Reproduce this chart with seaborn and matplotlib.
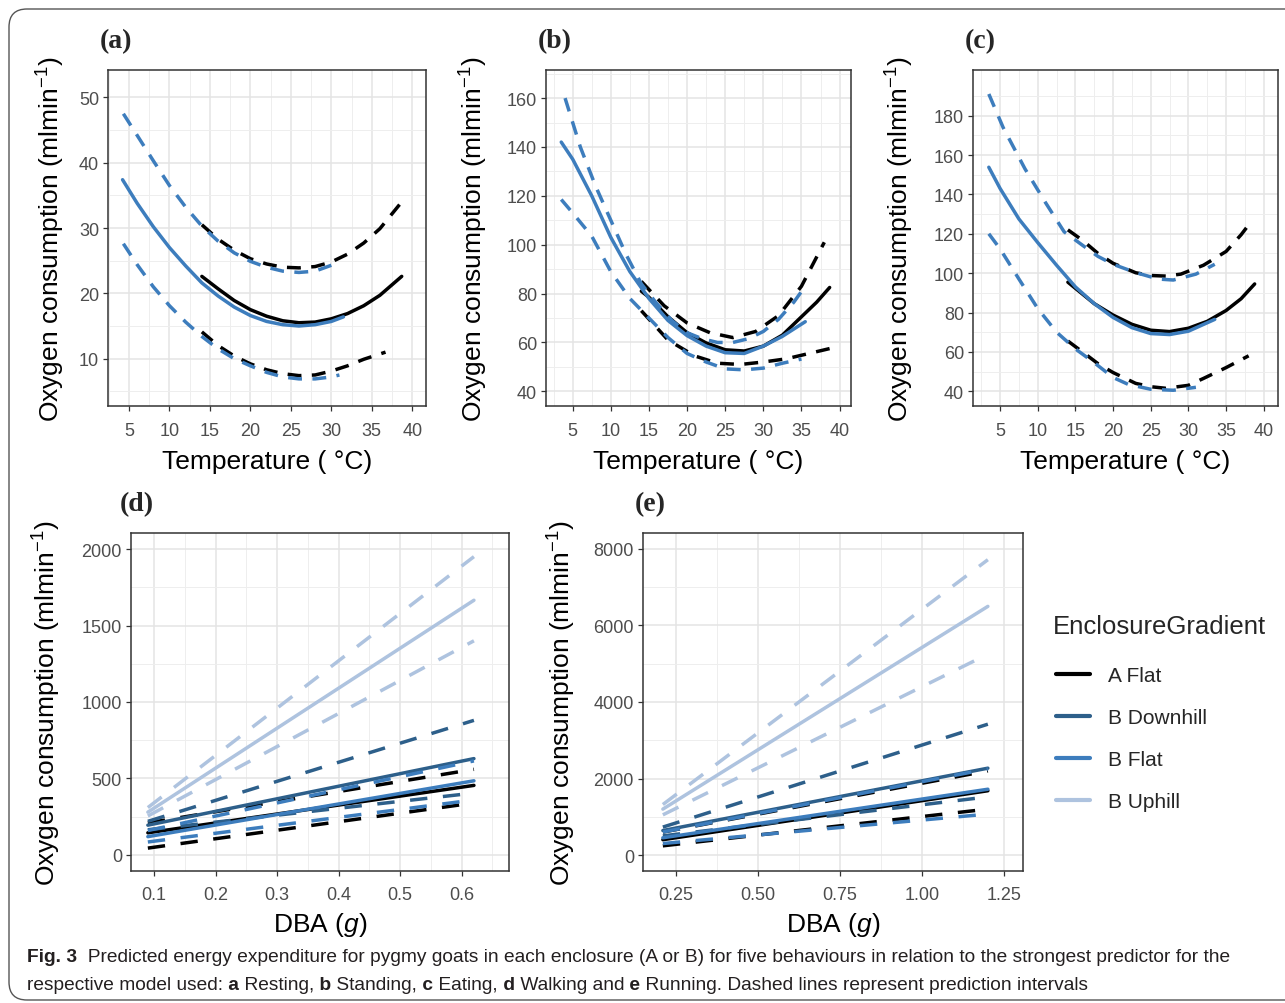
import matplotlib
matplotlib.use("Agg")
import matplotlib.pyplot as plt
import matplotlib.patches as mpatches
from matplotlib.lines import Line2D
from matplotlib.transforms import IdentityTransform
from matplotlib.ticker import FixedLocator, StrMethodFormatter
import pandas as pd
import seaborn as sns

# ---------------- data ----------------
groups = ["A Flat", "B Downhill", "B Flat", "B Uphill"]
colors = ["#000000", "#2d5f8a", "#3d7dbd", "#aec3df"]

# (a) Resting - temperature
a_A_fit_x = [14, 16, 18, 20, 22, 24, 26, 28, 30, 32, 34, 36, 38.7]
a_A_fit = [22.6, 20.7, 18.9, 17.5, 16.5, 15.8, 15.5, 15.6, 16.1, 16.9, 18.1, 19.7, 22.6]
a_A_hi_x = [14, 16, 18, 20, 22, 24, 26, 28, 30, 32, 34, 36, 38.7]
a_A_hi = [30.5, 28.3, 26.6, 25.3, 24.5, 24.0, 23.9, 24.1, 24.8, 26.0, 27.7, 29.9, 34.0]
a_A_lo_x = [14, 16, 18, 20, 22, 24, 26, 28, 30, 32, 34, 36.7]
a_A_lo = [14.1, 12.0, 10.4, 9.2, 8.3, 7.7, 7.4, 7.5, 8.1, 8.9, 9.9, 11.0]
a_B_fit_x = [4.2, 6, 8, 10, 12, 14, 16, 18, 20, 22, 24, 26, 28, 30, 31.5]
a_B_fit = [37.4, 33.8, 30.2, 27.0, 24.2, 21.6, 19.6, 17.9, 16.6, 15.7, 15.2, 15.0, 15.2, 15.7, 16.4]
a_B_hi_x = [4.3, 6, 8, 10, 12, 14, 16, 18, 20, 22, 24, 26, 28, 30]
a_B_hi = [47.5, 44.2, 40.3, 36.5, 33.2, 30.3, 28.0, 26.2, 24.9, 24.0, 23.4, 23.2, 23.4, 24.3]
a_B_lo_x = [4.3, 6, 8, 10, 12, 14, 16, 18, 20, 22, 24, 26, 28, 30, 31]
a_B_lo = [27.6, 24.4, 21.0, 18.1, 15.6, 13.4, 11.5, 10.0, 8.9, 7.9, 7.2, 6.9, 6.9, 7.2, 7.5]

# (b) Standing - temperature
b_A_fit_x = [14, 15, 17.5, 20, 22.5, 25, 27.5, 30, 32.5, 35, 37, 38.7]
b_A_fit = [81, 78.5, 70.5, 64, 59.8, 57, 56.5, 58.5, 63, 70.5, 76.5, 82.5]
b_A_hi_x = [14, 17, 20, 23, 26, 29, 32, 35, 38]
b_A_hi = [85, 75, 68, 64, 62, 64.5, 71, 83, 101]
b_A_lo_x = [14, 17.5, 21, 24, 27, 30, 33, 36, 38.7]
b_A_lo = [73, 61, 54.5, 51.5, 51, 52, 53.3, 55.5, 57.5]
b_B_fit_x = [3.5, 5, 7.5, 10, 12.5, 15, 17.5, 20, 22.5, 25, 27.5, 30, 32.5, 35.5]
b_B_fit = [142, 135, 120, 103, 89, 78, 69, 62.8, 58.5, 55.8, 55.5, 58.5, 62.5, 68.5]
b_B_hi_x = [4, 6, 8, 10, 12, 14, 16, 18, 20, 22, 24, 26, 28, 30, 32, 34, 35.5]
b_B_hi = [160, 140, 124, 110, 96, 84, 76, 69, 64, 61.5, 60, 60, 61.5, 64.5, 69.5, 76.5, 83]
b_B_lo_x = [3.5, 5, 7.5, 10, 12.5, 15, 17.5, 20, 22.5, 25, 27.5, 30, 32.5, 35]
b_B_lo = [118.5, 113, 103.5, 89, 78, 70, 62, 55.5, 52, 49.2, 48.8, 49.5, 51.5, 53.2]

# (c) Eating - temperature
c_A_fit_x = [14, 17.5, 20, 22.5, 25, 27.5, 30, 32.5, 35, 37, 38.8]
c_A_fit = [95.4, 84.5, 78.7, 74, 71, 70.3, 72, 75.5, 81, 87, 94.5]
c_A_hi_x = [14, 16, 18, 20, 23, 25, 27, 29, 32, 35, 37, 38.3]
c_A_hi = [122, 116.5, 110, 105, 100.2, 98.8, 98.5, 99.5, 104, 111, 119.5, 126]
c_A_lo_x = [14, 16, 18, 20, 23, 25, 27, 30, 32, 35, 38]
c_A_lo = [65.5, 59.8, 54, 49.5, 44, 42.3, 41.5, 43, 46.5, 52, 58]
c_B_fit_x = [3.5, 5, 7.5, 10, 12.5, 15, 17.5, 20, 22.5, 25, 27.5, 30, 33.5]
c_B_fit = [153.8, 143, 127.5, 115.5, 104, 93, 84.5, 77.5, 72.3, 69.3, 68.8, 70.5, 76.5]
c_B_hi_x = [3.5, 5.4, 8.3, 11, 13.5, 16, 18, 20, 23, 26, 28, 31, 33.5]
c_B_hi = [191, 174, 153, 136, 121, 114, 108.5, 104.5, 100.3, 97, 96.5, 99.5, 104.5]
c_B_lo_x = [3.5, 5, 7.5, 10, 12.5, 15, 17.5, 20, 22, 25, 28, 31]
c_B_lo = [120, 112.3, 97, 82, 70, 61.5, 54.5, 47, 43.5, 41, 40.5, 42]

# (d) Walking - DBA
d_x = [0.09, 0.62]
d_A_fit, d_A_hi, d_A_lo = [145, 455], [210, 560], [45, 340]
d_D_fit, d_D_hi, d_D_lo = [195, 630], [220, 880], [165, 405]
d_F_fit, d_F_hi, d_F_lo = [120, 485], [160, 615], [85, 360]
d_U_fit, d_U_hi, d_U_lo = [280, 1665], [310, 1950], [255, 1400]

# (e) Running - DBA
e_x = [0.21, 1.2]
e_A_fit, e_A_hi, e_A_lo = [400, 1680], [600, 2200], [240, 1200]
e_D_fit, e_D_hi, e_D_lo = [640, 2270], [730, 3420], [500, 1520]
e_F_fit, e_F_hi, e_F_lo = [450, 1720], [600, 2250], [300, 1070]
e_U_fit, e_U_hi, e_U_lo = [1200, 6500], [1320, 7720], [1050, 5250]

# axis breaks
temp_ticks = [5, 10, 15, 20, 25, 30, 35, 40]
a_yticks = [10, 20, 30, 40, 50]
b_yticks = [40, 60, 80, 100, 120, 140, 160]
c_yticks = [40, 60, 80, 100, 120, 140, 160, 180]
d_xticks = [0.1, 0.2, 0.3, 0.4, 0.5, 0.6]
d_yticks = [0, 500, 1000, 1500, 2000]
e_xticks = [0.25, 0.50, 0.75, 1.00, 1.25]
e_yticks = [0, 2000, 4000, 6000, 8000]

caption1 = [("Fig. 3", True),
            ("  Predicted energy expenditure for pygmy goats in each enclosure (A or B) for five "
             "behaviours in relation to the strongest predictor for the", False)]
caption2 = [("respective model used:", False), (" a", True), (" Resting,", False), (" b", True),
            (" Standing,", False), (" c", True), (" Eating,", False), (" d", True),
            (" Walking and", False), (" e", True),
            (" Running. Dashed lines represent prediction intervals", False)]


def series(group, kind, xs, ys):
    return pd.DataFrame({"x": xs, "y": ys, "group": group, "kind": kind,
                         "line": group + kind})


# ---------------- style ----------------
sns.set_theme(style="white")
plt.rcParams["font.family"] = ["Liberation Sans", "DejaVu Sans"]
plt.rcParams["mathtext.fontset"] = "custom"
plt.rcParams["mathtext.rm"] = "Liberation Sans"
plt.rcParams["mathtext.it"] = "Liberation Sans:italic"

W, H = 1285, 1004
fig = plt.figure(figsize=(W / 100, H / 100), dpi=100)
pal = dict(zip(groups, colors))


def px_axes(l, t, r, b):
    return fig.add_axes([l / W, 1 - b / H, (r - l) / W, (b - t) / H])


def minors(ticks, lim):
    # ggplot style: midpoints between breaks plus one half-step beyond each end
    step = ticks[1] - ticks[0]
    cand = [ticks[0] - step / 2] + [t + step / 2 for t in ticks]
    return [c for c in cand if lim[0] <= c <= lim[1]]


def style_axes(ax, xlim, ylim, xt, yt, xlabel, xfmt="{x:.0f}", ylab_x=-0.15,
               xlab_y=-0.12, xpad=8):
    ax.set_xlim(*xlim)
    ax.set_ylim(*ylim)
    ax.xaxis.set_major_locator(FixedLocator(xt))
    ax.xaxis.set_minor_locator(FixedLocator(minors(xt, xlim)))
    ax.yaxis.set_major_locator(FixedLocator(yt))
    ax.yaxis.set_minor_locator(FixedLocator(minors(yt, ylim)))
    ax.xaxis.set_major_formatter(StrMethodFormatter(xfmt))
    ax.yaxis.set_major_formatter(StrMethodFormatter("{x:.0f}"))
    ax.grid(which="major", color="#e4e4e4", lw=1.1)
    ax.grid(which="minor", color="#eeeeee", lw=0.7)
    ax.set_axisbelow(True)
    for sp in ax.spines.values():
        sp.set_color("#333333")
        sp.set_linewidth(1.1)
    ax.tick_params(which="major", length=3.5, width=0.9, color="#333333",
                   labelsize=13, labelcolor="#4d4d4d", pad=3, bottom=True, left=True)
    ax.tick_params(axis="x", which="major", pad=xpad)
    ax.tick_params(which="minor", length=0)
    ax.set_xlabel(xlabel, fontsize=19, color="black")
    ax.set_ylabel("Oxygen consumption (mlmin$^{-1}$)", fontsize=19, color="black")
    ax.xaxis.set_label_coords(0.5, xlab_y)
    ax.yaxis.set_label_coords(ylab_x, 0.5)


def draw(ax, df, dash):
    sns.lineplot(data=df, x="x", y="y", hue="group", style="kind", units="line",
                 estimator=None, sort=False, palette=pal, hue_order=groups,
                 style_order=["fit", "upper", "lower"],
                 dashes={"fit": "", "upper": dash, "lower": dash},
                 lw=2.5, legend=False, ax=ax)


temp_label = "Temperature ( °C)"
dba_label = "DBA ($g$)"

# (a)
ax_a = px_axes(108, 71, 426, 407)
df_a = pd.concat([
    series("A Flat", "fit", a_A_fit_x, a_A_fit), series("A Flat", "upper", a_A_hi_x, a_A_hi),
    series("A Flat", "lower", a_A_lo_x, a_A_lo), series("B Flat", "fit", a_B_fit_x, a_B_fit),
    series("B Flat", "upper", a_B_hi_x, a_B_hi), series("B Flat", "lower", a_B_lo_x, a_B_lo)])
draw(ax_a, df_a, (4, 3))
style_axes(ax_a, (2.4, 41.7), (2.75, 54.2), temp_ticks, a_yticks, temp_label,
           ylab_x=-0.13, xlab_y=-0.127)

# (b)
ax_b = px_axes(546, 71, 851, 407)
df_b = pd.concat([
    series("A Flat", "fit", b_A_fit_x, b_A_fit), series("A Flat", "upper", b_A_hi_x, b_A_hi),
    series("A Flat", "lower", b_A_lo_x, b_A_lo), series("B Flat", "fit", b_B_fit_x, b_B_fit),
    series("B Flat", "upper", b_B_hi_x, b_B_hi), series("B Flat", "lower", b_B_lo_x, b_B_lo)])
draw(ax_b, df_b, (4, 3))
style_axes(ax_b, (1.5, 41.5), (34.0, 171.5), temp_ticks, b_yticks, temp_label,
           ylab_x=-0.184, xlab_y=-0.127)

# (c)
ax_c = px_axes(973, 71, 1278, 407)
df_c = pd.concat([
    series("A Flat", "fit", c_A_fit_x, c_A_fit), series("A Flat", "upper", c_A_hi_x, c_A_hi),
    series("A Flat", "lower", c_A_lo_x, c_A_lo), series("B Flat", "fit", c_B_fit_x, c_B_fit),
    series("B Flat", "upper", c_B_hi_x, c_B_hi), series("B Flat", "lower", c_B_lo_x, c_B_lo)])
draw(ax_c, df_c, (4, 3))
style_axes(ax_c, (1.4, 41.9), (32.5, 203.2), temp_ticks, c_yticks, temp_label,
           ylab_x=-0.187, xlab_y=-0.127)

# (d)
ax_d = px_axes(131, 534, 509, 872)
d_parts = []
for g, f, hi, lo in zip(groups, [d_A_fit, d_D_fit, d_F_fit, d_U_fit],
                        [d_A_hi, d_D_hi, d_F_hi, d_U_hi], [d_A_lo, d_D_lo, d_F_lo, d_U_lo]):
    d_parts += [series(g, "fit", d_x, f), series(g, "upper", d_x, hi), series(g, "lower", d_x, lo)]
draw(ax_d, pd.concat(d_parts), (5, 4.5))
style_axes(ax_d, (0.0626, 0.677), (-104.6, 2104.6), d_xticks, d_yticks, dba_label,
           xfmt="{x:.1f}", ylab_x=-0.18, xlab_y=-0.114, xpad=7)

# (e)
ax_e = px_axes(643, 534, 1023, 872)
e_parts = []
for g, f, hi, lo in zip(groups, [e_A_fit, e_D_fit, e_F_fit, e_U_fit],
                        [e_A_hi, e_D_hi, e_F_hi, e_U_hi], [e_A_lo, e_D_lo, e_F_lo, e_U_lo]):
    e_parts += [series(g, "fit", e_x, f), series(g, "upper", e_x, hi), series(g, "lower", e_x, lo)]
draw(ax_e, pd.concat(e_parts), (5, 4.5))
style_axes(ax_e, (0.1495, 1.307), (-418, 8418), e_xticks, e_yticks, dba_label,
           xfmt="{x:.2f}", ylab_x=-0.172, xlab_y=-0.114, xpad=7)

# panel letters
for lab, x, y in [("(a)", 100, 42), ("(b)", 538, 42), ("(c)", 965, 42),
                  ("(d)", 120, 505), ("(e)", 635, 505)]:
    fig.text(x / W, 1 - y / H, lab, family=["Liberation Serif", "DejaVu Serif"],
             fontweight="bold", fontsize=20, ha="left", va="center")

# legend
fig.text(1053 / W, 1 - 627 / H, "EnclosureGradient", fontsize=18.5, ha="left", va="center")
handles = [Line2D([], [], color=c, lw=3) for c in colors]
leg = fig.legend(handles, groups, loc="upper left",
                 bbox_to_anchor=(1046 / W, 1 - 657 / H), frameon=False, fontsize=15,
                 handlelength=1.6, handletextpad=0.9, labelspacing=1.1, borderpad=0)

# rounded frame
frame = mpatches.FancyBboxPatch((9, 3), 1310, 991, boxstyle="round,pad=0,rounding_size=18",
                                transform=IdentityTransform(), fill=False,
                                ec="#555555", lw=1.0)
fig.add_artist(frame)

# caption with bold pieces
renderer = fig.canvas.get_renderer()
cap_font = ["Liberation Sans Narrow", "DejaVu Sans Condensed", "Liberation Sans"]


def place(parts, y, size, dry=False):
    x = 27.0
    made = []
    for s, bold in parts:
        t = fig.text(x / W, 1 - y / H, s, fontsize=size, family=cap_font,
                     fontweight="bold" if bold else "normal",
                     color="#231f20", ha="left", va="center")
        x += t.get_window_extent(renderer).width
        made.append(t)
    if dry:
        for t in made:
            t.remove()
    return x - 27.0


w12 = place(caption1, 958, 12, dry=True)
cap_size = 12 * 1211 / w12
place(caption1, 958, cap_size)
place(caption2, 986, cap_size)

fig.savefig("out.png", dpi=100)
